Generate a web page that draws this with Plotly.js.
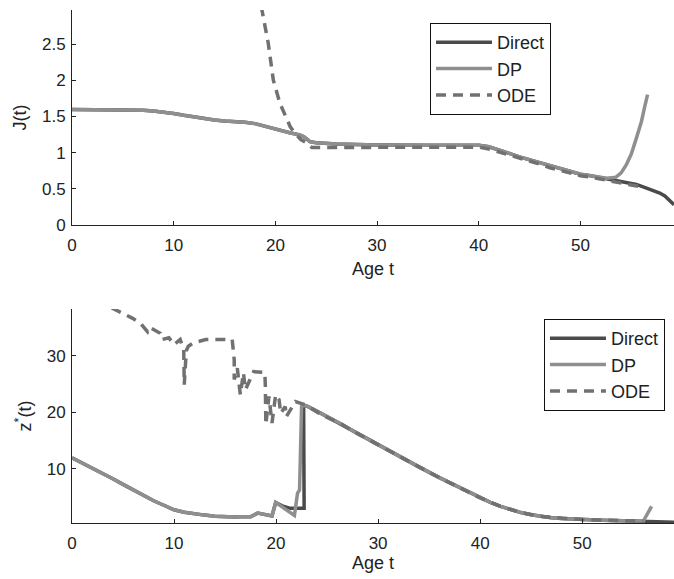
<!DOCTYPE html>
<html>
<head>
<meta charset="utf-8">
<script src="https://cdn.plot.ly/plotly-3.0.1.min.js"></script>
<style>html,body{margin:0;padding:0;background:#fff;}#chart{width:674px;height:579px;}</style>
</head>
<body>
<div id="chart"></div>
<script>
// ---- Top panel: J(t) ----
var directJ_t = [0,4,6,7,8,9,10,11,12,13,14,15,16,16.5,17,18,19,19.8,20.5,21.5,22.4,22.8,23.4,24,26,30,35,40,41,42,43,44,45,46,47,48,49,50,51,52,52.6,53.5,54.5,55.5,56.5,57.3,57.8,58.3,58.8,59.2];
var directJ   = [1.595,1.595,1.59,1.585,1.575,1.56,1.54,1.515,1.49,1.465,1.45,1.435,1.43,1.43,1.42,1.40,1.36,1.34,1.30,1.27,1.245,1.22,1.15,1.135,1.12,1.105,1.10,1.10,1.08,1.04,0.99,0.94,0.90,0.86,0.81,0.77,0.735,0.70,0.68,0.655,0.64,0.62,0.59,0.56,0.51,0.47,0.44,0.40,0.33,0.28];

var dpJ_t = [0,4,6,7,8,9,10,11,12,13,14,15,16,16.5,17,18,19,19.8,20.5,21.5,22.4,22.8,23.4,24,26,30,35,40,41,42,43,44,45,46,47,48,49,50,51,52,52.6,53.5,54,54.5,55,55.5,56,56.3,56.6];
var dpJ   = [1.595,1.595,1.59,1.585,1.575,1.56,1.54,1.515,1.49,1.465,1.45,1.435,1.43,1.43,1.42,1.40,1.36,1.34,1.30,1.27,1.245,1.22,1.15,1.135,1.12,1.105,1.10,1.10,1.08,1.04,0.99,0.94,0.90,0.86,0.81,0.77,0.735,0.70,0.68,0.66,0.645,0.66,0.72,0.83,0.98,1.20,1.43,1.62,1.80];

var odeJ_t = [18.3,18.65,19.3,19.8,20.45,21.45,21.9,22.5,23.1,23.6,24.7,26,30,35,40,41,42,43,44,45,46,47,48,49,50,51,52,53,54,55,56,56.2];
var odeJ   = [3.25,2.97,2.51,2.0,1.68,1.36,1.27,1.18,1.13,1.07,1.07,1.075,1.08,1.08,1.075,1.05,1.01,0.965,0.92,0.88,0.84,0.79,0.75,0.715,0.68,0.66,0.635,0.61,0.585,0.56,0.53,0.52];

// ---- Bottom panel: z*(t) ----
var directZ_t = [0,1,2,3,4,5,6,7,8,9,10,11,12,13,14,15,16,16.5,17,17.5,18.2,18.8,19.3,19.6,19.96,20.6,21.4,22.0,22.75,22.7,23,24,25,26.3,28,30,32,34,36,38,39,40,41,42,43,44,45,46,47,48,50,52,54,56,58,59];
var directZ   = [11.9,11.0,10.1,9.2,8.2,7.2,6.2,5.2,4.3,3.5,2.7,2.25,1.95,1.75,1.55,1.45,1.4,1.47,1.5,1.45,2.1,1.9,1.75,1.6,4.0,3.4,2.95,2.95,2.95,21.2,21.1,20.2,19.2,18.0,16.2,14.2,12.2,10.3,8.4,6.6,5.7,4.8,4.0,3.3,2.7,2.2,1.8,1.5,1.3,1.15,0.95,0.85,0.75,0.7,0.6,0.5];

var dpZ_t = [0,1,2,3,4,5,6,7,8,9,10,11,12,13,14,15,16,16.5,17,17.5,18.2,18.8,19.3,19.6,19.96,21.8,22.1,22.3,22.5,22.7,23,24,25,26.3,28,30,32,34,36,38,39,40,41,42,43,44,45,46,47,48,50,52,54,56,56.8];
var dpZ   = [11.9,11.0,10.1,9.2,8.2,7.2,6.2,5.2,4.3,3.5,2.7,2.25,1.95,1.75,1.55,1.45,1.4,1.47,1.5,1.45,2.1,1.9,1.75,1.6,4.0,1.7,5.6,6.2,21.0,21.2,21.1,20.2,19.2,18.0,16.2,14.2,12.2,10.3,8.4,6.6,5.7,4.8,4.0,3.3,2.7,2.2,1.8,1.5,1.3,1.15,0.95,0.85,0.75,0.7,3.3];

var odeZ_t = [3.9,4.9,5.9,6.7,7.4,7.6,8.65,8.8,9.5,10.0,10.6,10.95,11.0,11.2,11.4,11.9,13.1,15.7,15.9,15.9,16.2,16.5,16.8,17.0,17.8,18.9,18.95,19.0,19.3,19.6,19.96,20.3,20.45,20.9,21.0,21.9,22.9,24.4,26.3,28,30,32,34,36,38,40,42,44,46,48,50,52,54,56];
var odeZ   = [38.5,37.6,36.7,35.8,34.3,35.1,34.0,32.9,33.2,32.0,32.9,31.1,24.9,30.9,31.7,32.3,32.9,32.9,29.3,25.8,27.8,23.1,27.0,24.0,27.2,27.05,24.6,17.8,22.8,18.1,23.1,22.2,19.8,21.0,19.2,21.9,21.3,19.6,18.0,16.2,14.2,12.2,10.3,8.4,6.6,4.8,3.3,2.2,1.5,1.15,0.95,0.85,0.75,0.7];

var seriesNames = ['Direct','DP','ODE'];
var cDirect = '#4a4a4a', cDP = '#8f8f8f', cODE = '#717171';
var fontFam = '"Liberation Sans", Arial, Helvetica, sans-serif';
var LW = 3.5;

var traces = [
  {x: directJ_t, y: directJ, name: seriesNames[0], mode:'lines', line:{color:cDirect, width:LW}, xaxis:'x', yaxis:'y', legend:'legend'},
  {x: dpJ_t, y: dpJ, name: seriesNames[1], mode:'lines', line:{color:cDP, width:LW}, xaxis:'x', yaxis:'y', legend:'legend'},
  {x: odeJ_t, y: odeJ, name: seriesNames[2], mode:'lines', line:{color:cODE, width:LW, dash:'10px,7px'}, xaxis:'x', yaxis:'y', legend:'legend'},
  {x: directZ_t, y: directZ, name: seriesNames[0], mode:'lines', line:{color:cDirect, width:LW}, xaxis:'x2', yaxis:'y2', legend:'legend2'},
  {x: dpZ_t, y: dpZ, name: seriesNames[1], mode:'lines', line:{color:cDP, width:LW}, xaxis:'x2', yaxis:'y2', legend:'legend2'},
  {x: odeZ_t, y: odeZ, name: seriesNames[2], mode:'lines', line:{color:cODE, width:LW, dash:'10px,7px'}, xaxis:'x2', yaxis:'y2', legend:'legend2'}
];

var axCommon = {
  showline:true, linecolor:'#222', linewidth:1, mirror:false,
  ticks:'inside', ticklen:4, tickcolor:'#222', tickwidth:1,
  showgrid:false, zeroline:false,
  tickfont:{family:fontFam, size:17, color:'#222'}
};
function ax(o){ return Object.assign({}, axCommon, o); }
var titleFont = {family:fontFam, size:18, color:'#222'};

var legendCommon = {
  bgcolor:'#fff', bordercolor:'#111', borderwidth:1,
  font:{family:fontFam, size:18, color:'#222'},
  xanchor:'left', yanchor:'top', itemwidth:56, tracegroupgap:0
};

var layout = {
  width:674, height:579,
  margin:{l:72, r:0, t:10, b:56},
  paper_bgcolor:'#fff', plot_bgcolor:'#fff',
  font:{family:fontFam, color:'#222'},
  showlegend:true,
  xaxis: ax({domain:[0,1], range:[0,59.2], tickvals:[0,10,20,30,40,50], anchor:'y', ticklabelstandoff:5,
            title:{text:'Age t', font:titleFont, standoff:8}}),
  yaxis: ax({domain:[0.581,1], range:[0,2.97], tickvals:[0,0.5,1,1.5,2,2.5], anchor:'x', ticklabelstandoff:2,
            title:{text:'J(t)', font:titleFont, standoff:10}}),
  xaxis2: ax({domain:[0,1], range:[0,59.0], tickvals:[0,10,20,30,40,50], anchor:'y2', ticklabelstandoff:5,
            title:{text:'Age t', font:titleFont, standoff:1}}),
  yaxis2: ax({domain:[0,0.417], range:[0.35,38.3], tickvals:[10,20,30], anchor:'x2', ticklabelstandoff:2,
            title:{text:'z<sup>*</sup>(t)', font:titleFont, standoff:10}}),
  legend: Object.assign({}, legendCommon, {x:0.5947, y:0.9747}),
  legend2: Object.assign({}, legendCommon, {x:0.784, y:0.3977})
};

Plotly.newPlot('chart', traces, layout, {staticPlot:true, displayModeBar:false});
</script>
</body>
</html>
